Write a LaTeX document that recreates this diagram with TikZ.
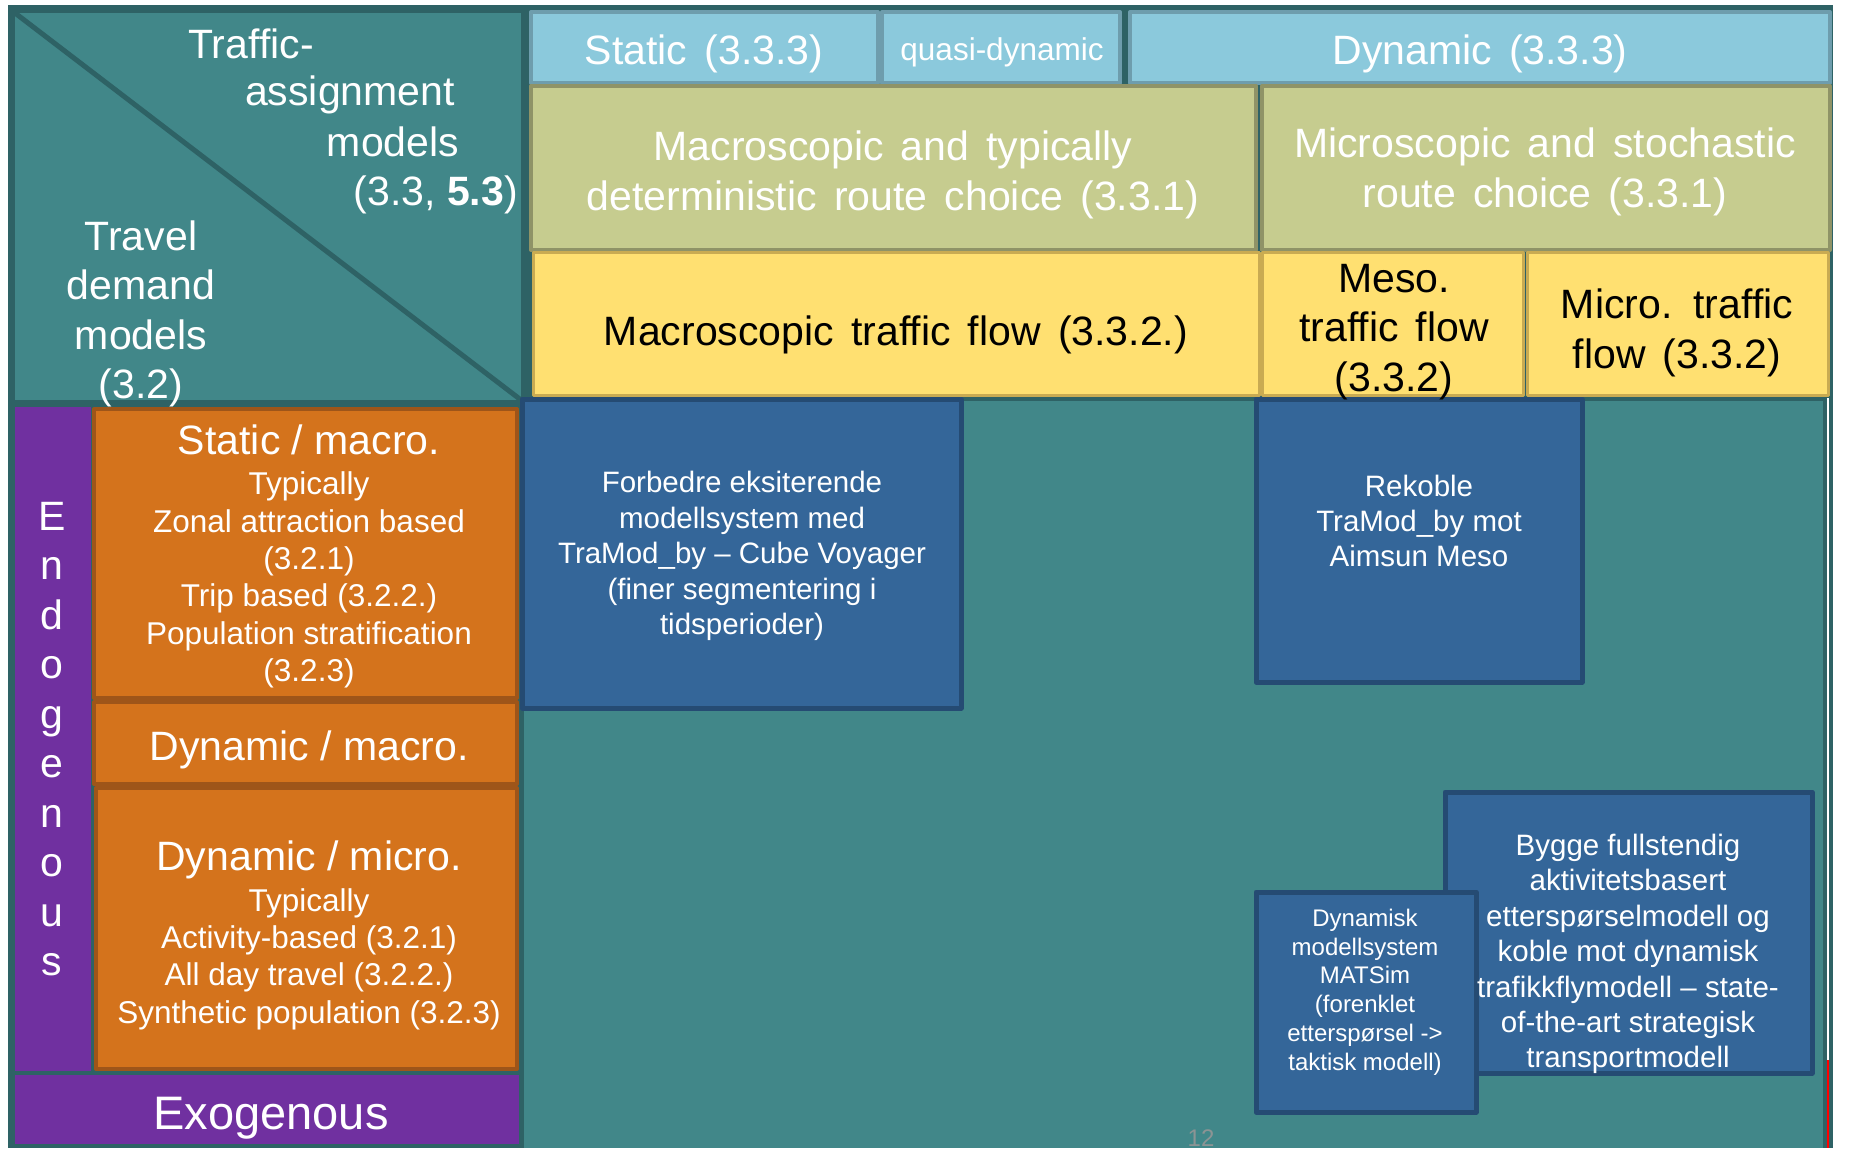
\documentclass[tikz,border=0pt]{standalone}
\usepackage{fontspec}
\setmainfont{Liberation Sans}
\definecolor{tealbg}{HTML}{418789}
\definecolor{tealdk}{HTML}{2E6265}
\definecolor{skyc}{HTML}{8BC9DC}
\definecolor{skyb}{HTML}{6E9DAD}
\definecolor{olivec}{HTML}{C6CC8F}
\definecolor{oliveb}{HTML}{8F9367}
\definecolor{yelc}{HTML}{FFE071}
\definecolor{yelb}{HTML}{C9AB52}
\definecolor{orac}{HTML}{D4731C}
\definecolor{orab}{HTML}{9E5519}
\definecolor{purc}{HTML}{7030A0}
\definecolor{bluc}{HTML}{346699}
\definecolor{blub}{HTML}{254B73}
\definecolor{pgnum}{HTML}{8C9494}
\newcommand\fhead{\fontsize{41}{49.5}\selectfont\spaceskip=0.42em\relax}
\newcommand\fplain{\fontsize{41}{49.5}\selectfont}
\newcommand\fexo{\fontsize{47}{56}\selectfont}
\newcommand\fsub{\fontsize{31.5}{37.3}\selectfont}
\newcommand\fquasi{\fontsize{31.5}{37}\selectfont}
\newcommand\fblu{\fontsize{29.5}{35.4}\selectfont}
\newcommand\fblus{\fontsize{24}{28.8}\selectfont}
\begin{document}
\begin{tikzpicture}[x=1pt, y=-1pt, line join=round,
	txt/.style={text=white, align=center, inner sep=0pt},
	hdr/.style={fill=skyc, draw=skyb, line width=4pt},
	grn/.style={fill=olivec, draw=oliveb, line width=4pt},
	ylw/.style={fill=yelc, draw=yelb, line width=3pt},
	org/.style={fill=orac, draw=orab, line width=4pt},
	prp/.style={fill=purc},
	blu/.style={fill=bluc, draw=blub, line width=5pt}]
	\useasboundingbox (0,0) rectangle (1849,1148);
	\clip (0,0) rectangle (1849,1148);
	\path 
	(8,5) coordinate (F1)
	(1833,1148) coordinate (F2)
	(15,13) coordinate (C1)
	(521,400) coordinate (C2)
	(524,401) coordinate (L1)
	(1823,1148) coordinate (L2)
	;
	\fill[tealdk] (F1) rectangle (F2);
	\fill[tealbg] (C1) rectangle (C2);
	\fill[tealbg] (L1) rectangle (L2);
	\draw[tealdk, line width=5pt] (C1)--(C2);
	\draw[white, line width=1.5pt] (1828,398)--(1828,1060);
	\draw[red, line width=1.5pt] (1828,1060)--(1828,1148);
	
	\foreach \xa/\ya/\xb/\yb in {531/12/878/83, 882/12/1120/83, 1130/12/1830/83}{
		\draw[hdr] (\xa,\ya) rectangle (\xb,\yb);
	}
	\foreach \xa/\ya/\xb/\yb in {531/86/1256/250, 1262/86/1830/250}{
		\draw[grn] (\xa,\ya) rectangle (\xb,\yb);
	}
	\foreach \xa/\ya/\xb/\yb in {533/252/1259/395, 1262/252/1523/395, 1527/252/1828/395}{
		\draw[ylw] (\xa,\ya) rectangle (\xb,\yb);
	}
	\foreach \xa/\ya/\xb/\yb in {15/407/91/1071, 15/1075/519/1144}{
		\fill[prp] (\xa,\ya) rectangle (\xb,\yb);
	}
	\foreach \xa/\ya/\xb/\yb in {94/409/517/698, 94/702/517/784, 96/788/517/1069}{
		\draw[org] (\xa,\ya) rectangle (\xb,\yb);
	}
	\foreach \xa/\ya/\xb/\yb in {522/399/961/708, 1256/399/1582/682, 1445/792/1812/1073, 1256/892/1476/1112}{
		\draw[blu] (\xa,\ya) rectangle (\xb,\yb);
	}
	
	\node[txt, font=\fplain] (tam1) at (251,44) {Traffic-};
	\node[txt, font=\fplain] (tam2) at (350,95) {assignment};
	\node[txt, font=\fplain] (tam3) at (393,142) {models};
	\node[txt, font=\fplain, anchor=east] (tam4) at (518,195) {(3.3, \textbf{5.3})};
	\node[txt, font=\fplain] (tdm) at (141,314) {Travel\\demand\\models\\(3.2)};
	
	\node[txt, font=\fhead] (hstat) at (704,54) {Static (3.3.3)};
	\node[txt, font=\fquasi] (hquasi) at (1002,52) {quasi-dynamic};
	\node[txt, font=\fhead] (hdyn) at (1480,54) {Dynamic (3.3.3)};
	\node[txt, font=\fhead] (rmac) at (893,175) {Macroscopic and typically\\deterministic route choice (3.3.1)};
	\node[txt, font=\fhead] (rmic) at (1545,172) {Microscopic and stochastic\\route choice (3.3.1)};
	\node[txt, font=\fhead, text=black] (fmac) at (896,335) {Macroscopic traffic flow (3.3.2.)};
	\node[txt, font=\fhead, text=black] (fmeso) at (1394,332) {Meso.\\traffic flow\\(3.3.2)};
	\node[txt, font=\fhead, text=black] (fmic) at (1677,333) {Micro. traffic\\flow (3.3.2)};
	
	\node[txt, font=\fplain, anchor=north] (endo) at (52,502) {E\\n\\d\\o\\g\\e\\n\\o\\u\\s};
	\node[txt, font=\fplain] (dsm) at (309,440) {Static / macro.};
	\node[txt, font=\fsub] (dsmb) at (309,580) {Typically\\Zonal attraction based\\(3.2.1)\\Trip based (3.2.2.)\\Population stratification\\(3.2.3)};
	\node[txt, font=\fplain] (ddm) at (309,750) {Dynamic / macro.};
	\node[txt, font=\fplain] (ddmi) at (309,860) {Dynamic / micro.};
	\node[txt, font=\fsub] (ddmib) at (309,959) {Typically\\Activity-based (3.2.1)\\All day travel (3.2.2.)\\Synthetic population (3.2.3)};
	\node[txt, font=\fexo] (exo) at (271,1118) {Exogenous};
	
	\node[txt, font=\fblu] (bforb) at (742,556) {Forbedre eksiterende\\modellsystem med\\TraMod\_by – Cube Voyager\\(finer segmentering i\\tidsperioder)};
	\node[txt, font=\fblu] (brek) at (1419,521) {Rekoble\\TraMod\_by mot\\Aimsun Meso};
	\node[txt, font=\fblu] (bbyg) at (1628,954) {Bygge fullstendig\\aktivitetsbasert\\etterspørselmodell og\\koble mot dynamisk\\trafikkflymodell – state-\\of-the-art strategisk\\transportmodell};
	\node[txt, font=\fblus] (bdyn) at (1365,992) {Dynamisk\\modellsystem\\MATSim\\(forenklet\\etterspørsel ->\\taktisk modell)};
	\node[txt, font=\fblus, text=pgnum, anchor=north] (pgno) at (1201,1130) {12};
\end{tikzpicture}
\end{document}
